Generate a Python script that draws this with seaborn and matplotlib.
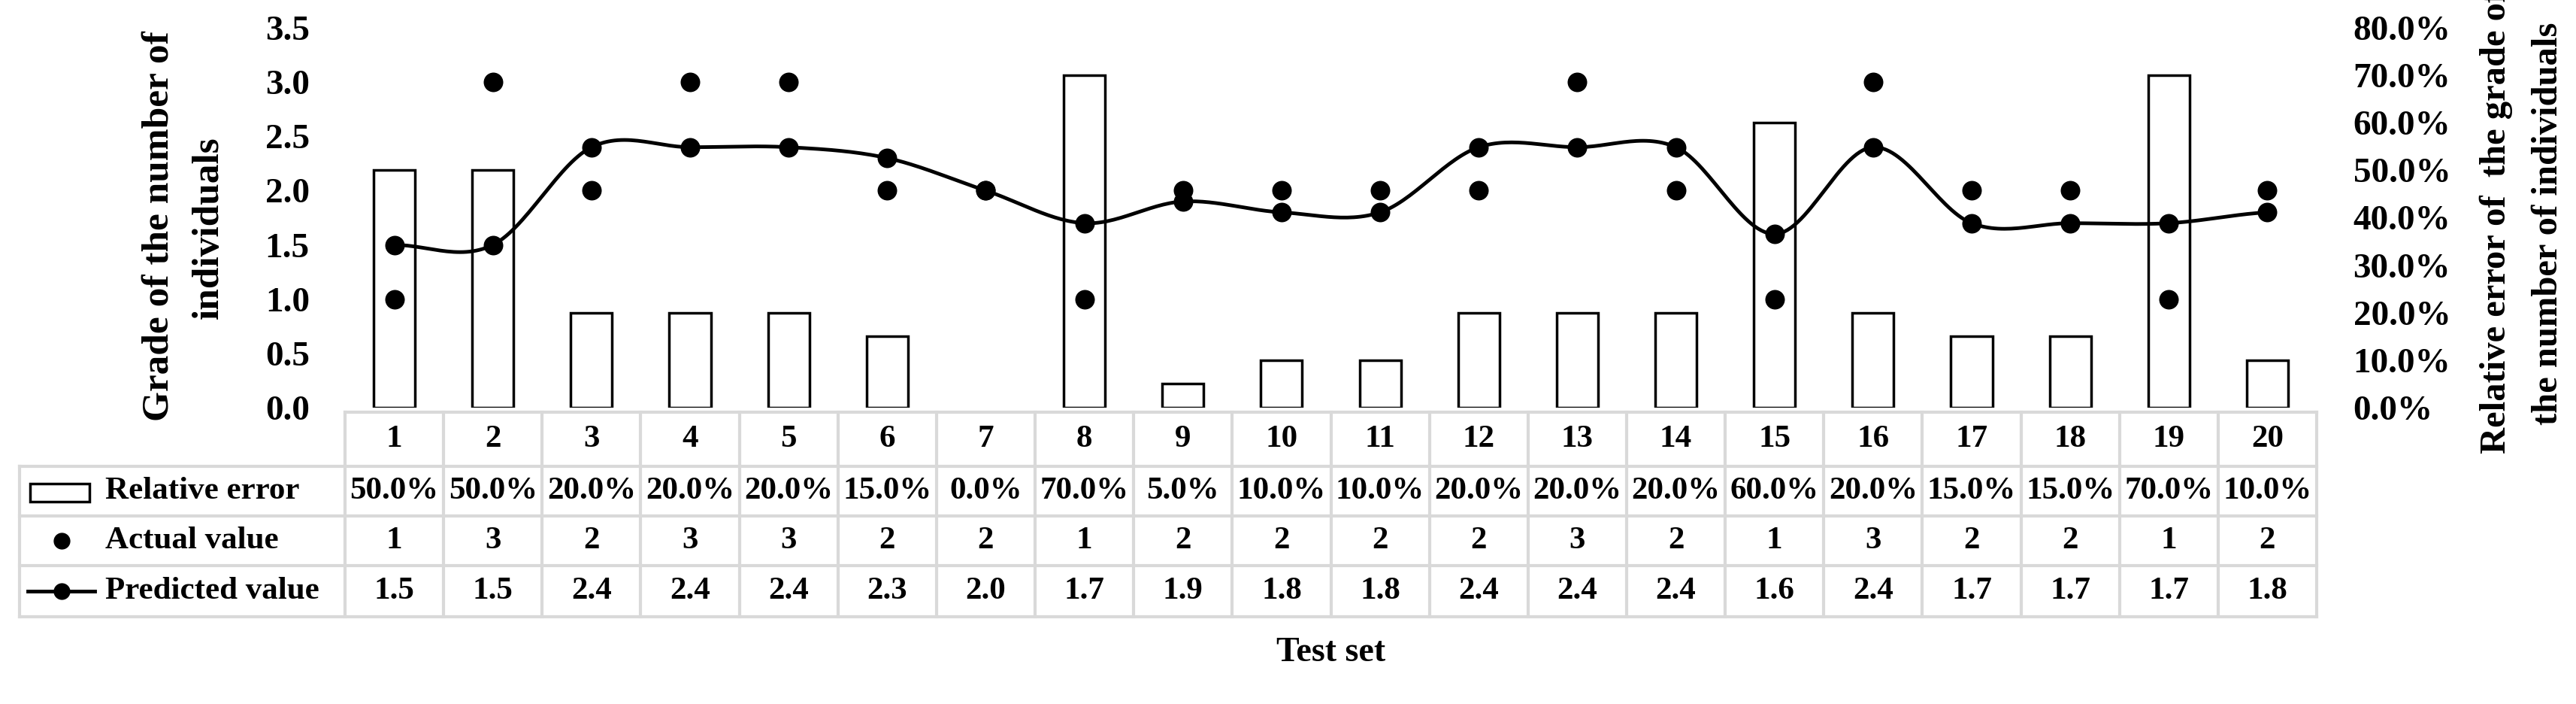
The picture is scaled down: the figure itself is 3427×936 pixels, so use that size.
import numpy as np
import pandas as pd
import matplotlib
matplotlib.use("Agg")
import matplotlib.pyplot as plt
import seaborn as sns
from matplotlib.lines import Line2D
from matplotlib.patches import Rectangle

test_sets = [str(i) for i in range(1, 21)]
relative_error = [50, 50, 20, 20, 20, 15, 0, 70, 5, 10, 10, 20, 20, 20, 60, 20, 15, 15, 70, 10]
actual_value = [1, 3, 2, 3, 3, 2, 2, 1, 2, 2, 2, 2, 3, 2, 1, 3, 2, 2, 1, 2]
predicted_value = [1.5, 1.5, 2.4, 2.4, 2.4, 2.3, 2.0, 1.7, 1.9, 1.8, 1.8, 2.4, 2.4, 2.4, 1.6, 2.4, 1.7, 1.7, 1.7, 1.8]
left_ticks = [0, 0.5, 1.0, 1.5, 2.0, 2.5, 3.0, 3.5]
right_ticks = [0, 10, 20, 30, 40, 50, 60, 70, 80]

W, H = 3427, 936
FONT = "Liberation Serif"
plt.rcParams["font.family"] = FONT
plt.rcParams["font.weight"] = "bold"
fig = plt.figure(figsize=(W / 100, H / 100), dpi=100)

def fx(p): return p / W
def fy(p): return 1 - p / H

L, R, T, B = 459, 3082, 37, 542
ax = fig.add_axes([fx(L), fy(B), fx(R) - fx(L), fy(T) - fy(B)])
ax2 = ax.twinx()
ax.set_zorder(2); ax.patch.set_visible(False)

df = pd.DataFrame({"set": test_sets, "err": relative_error,
                   "act": actual_value, "pred": predicted_value})
x = np.arange(len(test_sets))

sns.barplot(data=df, x="set", y="err", ax=ax2, color="white", edgecolor="black",
            linewidth=2.5, width=0.42, saturation=1)
for p in ax2.patches:
    if p.get_height() == 0:
        p.set_visible(False)
ax2.set_ylim(0, 80)
ax2.set_yticks(right_ticks)
ax2.set_yticklabels([f"{v:.1f}%" for v in right_ticks], fontsize=34, fontweight="bold")
ax2.set_ylabel("")

# Catmull-Rom smoothed predicted line
def catmull(xs, ys, n=30):
    px, py = [], []
    xs = np.asarray(xs, float); ys = np.asarray(ys, float)
    xe = np.concatenate([[2 * xs[0] - xs[1]], xs, [2 * xs[-1] - xs[-2]]])
    ye = np.concatenate([[ys[0]], ys, [ys[-1]]])
    for i in range(1, len(xe) - 2):
        t = np.linspace(0, 1, n, endpoint=False)
        for arr, out in ((xe, px), (ye, py)):
            p0, p1, p2, p3 = arr[i - 1], arr[i], arr[i + 1], arr[i + 2]
            out.extend(0.5 * ((2 * p1) + (-p0 + p2) * t + (2 * p0 - 5 * p1 + 4 * p2 - p3) * t ** 2
                              + (-p0 + 3 * p1 - 3 * p2 + p3) * t ** 3))
    px.append(xs[-1]); py.append(ys[-1])
    return np.array(px), np.array(py)

sx, sy = catmull(x, predicted_value)
ax.plot(sx, sy, color="black", lw=3.5, zorder=3)
sns.scatterplot(x=x, y=predicted_value, ax=ax, color="black", s=300, edgecolor="black", zorder=4, legend=False)
sns.scatterplot(x=x, y=actual_value, ax=ax, color="black", s=300, edgecolor="black", zorder=4, legend=False)
ax.set_xlim(-0.5, len(x) - 0.5)
ax2.set_xlim(-0.5, len(x) - 0.5)
ax.set_ylim(0, 3.5)
ax.set_yticks(left_ticks)
ax.set_yticklabels([f"{v:.1f}" for v in left_ticks], fontsize=34, fontweight="bold")
ax.set_xticks([])
ax2.set_xticks([])
ax2.set_xlabel(""); ax.set_xlabel("")
for a in (ax, ax2):
    for s in a.spines.values():
        s.set_visible(False)
    a.tick_params(length=0)
ax.tick_params(axis="y", pad=34)
ax2.tick_params(axis="y", pad=35)

# Data table
grid = "#d9d9d9"
rows = [548, 620, 686, 752, 820]
LX = 26
colw = (R - L) / len(x)
def hline(x0, x1, y):
    fig.add_artist(Line2D([fx(x0), fx(x1)], [fy(y), fy(y)], color=grid, lw=3))
def vline(xx, y0, y1):
    fig.add_artist(Line2D([fx(xx), fx(xx)], [fy(y0), fy(y1)], color=grid, lw=3))
hline(L, R, rows[0])
for y in rows[1:]:
    hline(LX, R, y)
vline(LX, rows[1], rows[-1])
for i in range(len(x) + 1):
    vline(L + i * colw, rows[0], rows[-1])

row_vals = [test_sets,
            [f"{v:.1f}%" for v in relative_error],
            [f"{v}" for v in actual_value],
            [f"{v:.1f}" for v in predicted_value]]
for r, vals in enumerate(row_vals):
    yc = (rows[r] + rows[r + 1]) / 2
    for i, v in enumerate(vals):
        fig.text(fx(L + (i + 0.5) * colw), fy(yc), v, ha="center", va="center",
                 fontsize=31, fontweight="bold")

names = ["Relative error", "Actual value", "Predicted value"]
for r, nm in enumerate(names):
    yc = (rows[r + 1] + rows[r + 2]) / 2
    fig.text(fx(140), fy(yc), nm, ha="left", va="center", fontsize=31, fontweight="bold")
fig.add_artist(Rectangle((fx(40), fy(667)), fx(119) - fx(40), fy(643) - fy(667),
                         transform=fig.transFigure, fill=False, edgecolor="black", lw=2.5))
fig.add_artist(Line2D([fx(82)], [fy(719)], marker="o", ms=15, color="black", lw=0))
fig.add_artist(Line2D([fx(37), fx(126)], [fy(786), fy(786)], color="black", lw=3.5))
fig.add_artist(Line2D([fx(82)], [fy(786)], marker="o", ms=15, color="black", lw=0))

fig.text(fx((L + R) / 2), fy(868), "Test set", ha="center", va="center", fontsize=33, fontweight="bold")
fig.text(fx(212), fy(301), "Grade of the number of", rotation=90, ha="center",
         va="center", fontsize=37, fontweight="bold")
fig.text(fx(278), fy(303), "individuals", rotation=90, ha="center",
         va="center", fontsize=37, fontweight="bold")
fig.text(fx(3321), fy(295), "Relative error of  the grade of", rotation=90,
         ha="center", va="center", fontsize=35, fontweight="bold")
fig.text(fx(3390), fy(297), "the number of individuals", rotation=90,
         ha="center", va="center", fontsize=35, fontweight="bold")

fig.savefig("out.png", dpi=100)
